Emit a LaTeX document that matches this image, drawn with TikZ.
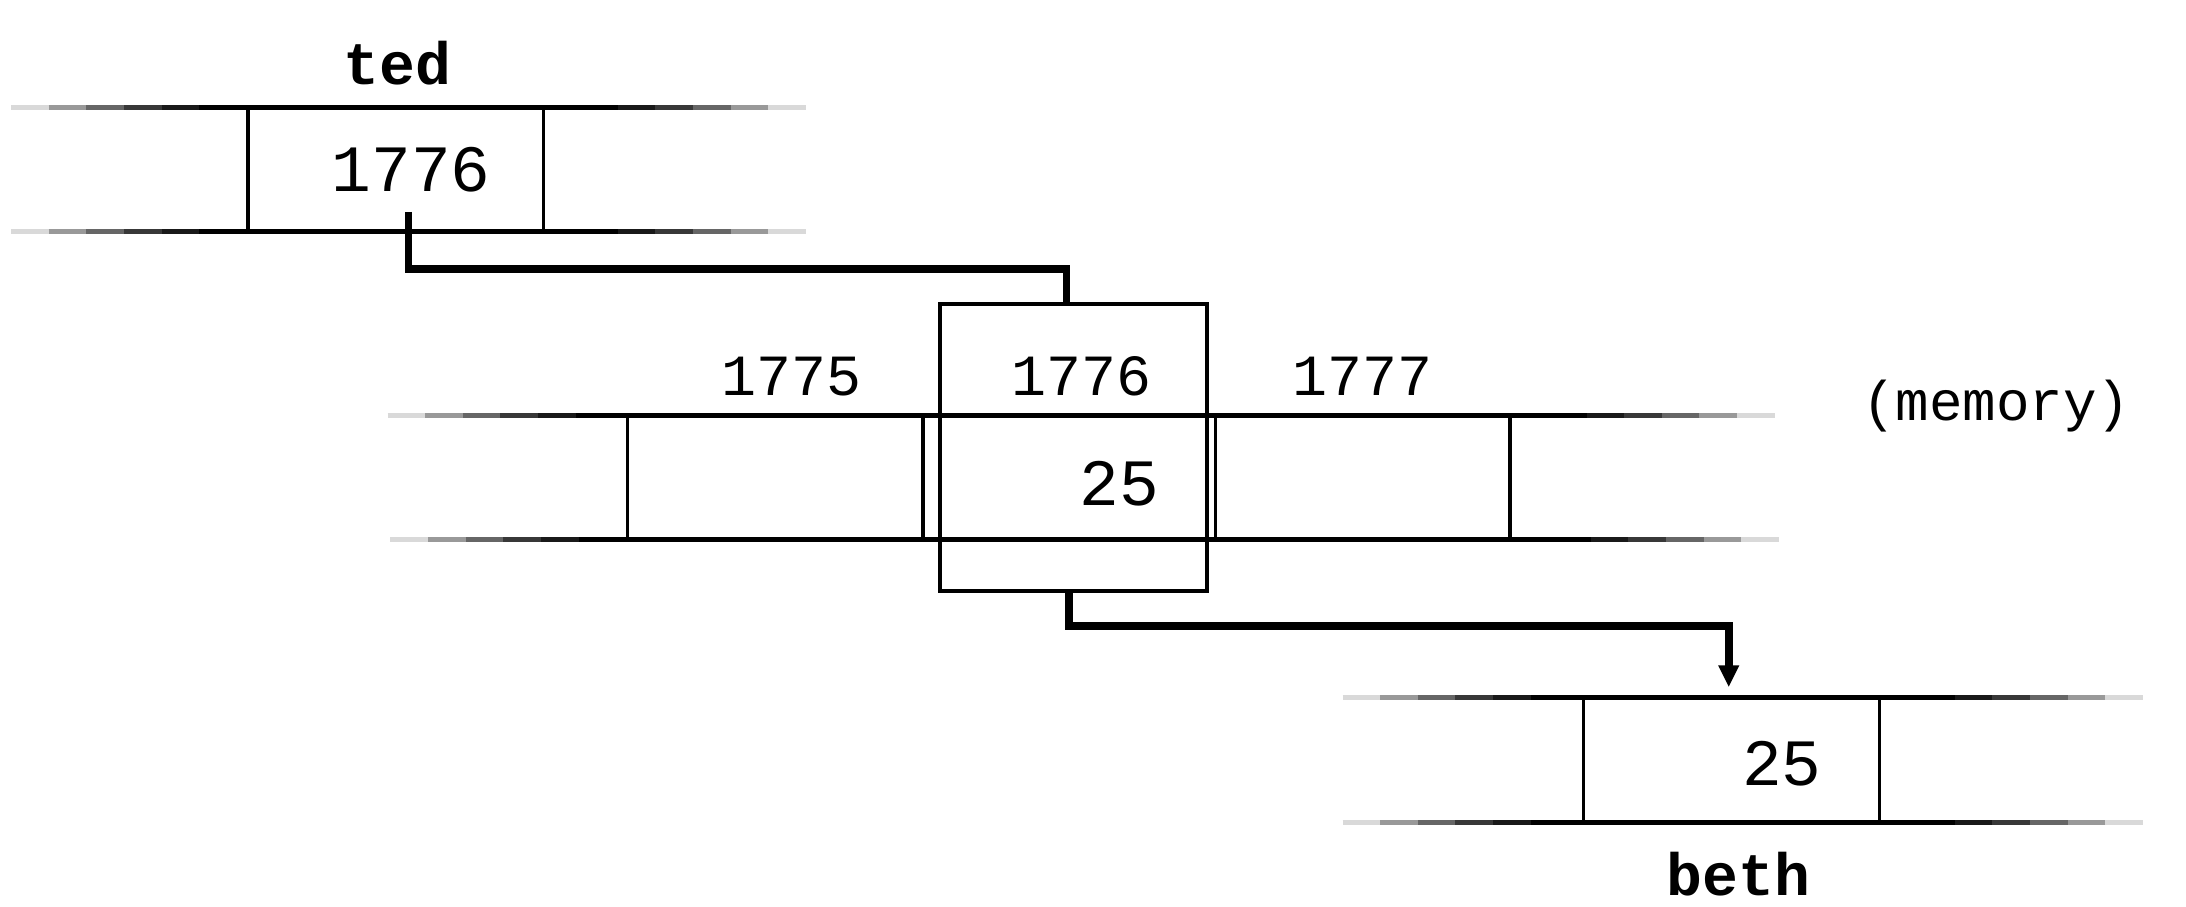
\documentclass[tikz,border=0pt]{standalone}
\usepackage{fontspec}
\newfontfamily\monofont{Liberation Mono}
\usetikzlibrary{arrows.meta}
\tikzset{
  rowline/.style={line width=1pt},
  cellbox/.style={draw, line width=0.7pt, inner sep=0pt, rectangle},
  bigbox/.style={draw, line width=0.8pt, inner sep=0pt, rectangle},
  conn/.style={line width=1.6pt, line join=miter},
  bignum/.style={inner sep=0pt, font=\monofont\fontsize{13.5}{14}\selectfont},
  addr/.style={inner sep=0pt, font=\monofont\fontsize{11.9}{13}\selectfont},
  varname/.style={inner sep=0pt, font=\monofont\bfseries\fontsize{12.2}{14}\selectfont},
}
\newcommand\fadeline[3]{% x1, x2, y
  \foreach \i/\c in {0/15,1/40,2/60,3/78,4/90}{
    \draw[rowline, black!\c] ({#1+\i*27},#3) -- ++(27,0);
    \draw[rowline, black!\c] ({#2-\i*27},#3) -- ++(-27,0);
  }
  \draw[rowline] ({#1+135},#3) -- ({#2-135},#3);
}
\begin{document}
\begin{tikzpicture}[x=0.1mm,y=-0.1mm]
\useasboundingbox (0,0) rectangle (1568,650.5);
% ---- ted row
\fadeline{8}{578}{77}
\fadeline{8}{578}{166}
\node[cellbox, minimum width=21.2mm, minimum height=8.9mm] (tedcell) at (284,121.5) {};
\node[bignum] (tedval) at (295,122) {1776};
\node[varname] (tedname) at (285,45) {ted};
% ---- memory row
\fadeline{278}{1273}{298}
\fadeline{280}{1276}{387}
\node[cellbox, minimum width=21.2mm, minimum height=8.9mm] (c1775) at (556,342.5) {};
\node[cellbox, minimum width=21.1mm, minimum height=8.9mm] (c1777) at (977.5,342.5) {};
\node[bigbox, minimum width=19.2mm, minimum height=20.6mm] (box) at (770,321) {};
\node[addr] (a1775) at (568,270) {1775};
\node[addr] (a1776) at (776,270) {1776};
\node[addr] (a1777) at (977,270) {1777};
\node[bignum] (memval) at (803,347) {25};
\node[addr, font=\monofont\fontsize{11.4}{13}\selectfont] (memlbl) at (1432,291) {(memory)};
% ---- beth row
\fadeline{963}{1537}{500}
\fadeline{963}{1537}{590}
\node[cellbox, minimum width=21.2mm, minimum height=9.0mm] (bethcell) at (1242,545) {};
\node[bignum] (bethval) at (1278,548) {25};
\node[varname] (bethname) at (1247,627) {beth};
% ---- connectors
\coordinate (tedsrc) at (293,152);
\coordinate (boxtop) at (765,218);
\coordinate (boxbot) at (767,424);
\coordinate (bethtop) at (1240,493);
\draw[conn] (tedsrc) -- ++(0,41) -| (boxtop);
\draw[conn, -{Triangle[width=4pt,length=4.5pt]}] (boxbot) -- ++(0,25) -| (bethtop);
\end{tikzpicture}
\end{document}
